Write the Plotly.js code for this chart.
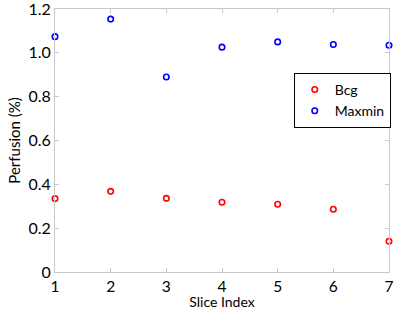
<!DOCTYPE html>
<html>
<head>
<meta charset="utf-8">
<script src="https://cdn.plot.ly/plotly-3.0.1.min.js"></script>
<style>html,body{margin:0;padding:0;background:#fff;}</style>
</head>
<body>
<div id="chart" style="width:400px;height:310px;"></div>
<script>
var sliceIndex = [1, 2, 3, 4, 5, 6, 7];
var bcgValues = [0.335, 0.368, 0.336, 0.318, 0.309, 0.286, 0.140];
var maxminValues = [1.074, 1.154, 0.890, 1.026, 1.050, 1.038, 1.035];
var yTickVals = [0, 0.2, 0.4, 0.6, 0.8, 1.0, 1.2];
var yTickText = ['0', '0.2', '0.4', '0.6', '0.8', '1.0', '1.2'];
var xTickVals = [1, 2, 3, 4, 5, 6, 7];
var xTickText = ['1', '2', '3', '4', '5', '6', '7'];

var FONT = 'Lato, "Open Sans", sans-serif';
var AXC = '#c8c8c8';

var traces = [
  {
    x: sliceIndex, y: bcgValues, name: 'Bcg', type: 'scatter', mode: 'markers',
    marker: {symbol: 'circle-open', size: 5.5, color: '#ff0000', line: {width: 1.6, color: '#ff0000'}},
    cliponaxis: false
  },
  {
    x: sliceIndex, y: maxminValues, name: 'Maxmin', type: 'scatter', mode: 'markers',
    marker: {symbol: 'circle-open', size: 5.5, color: '#0000ff', line: {width: 1.6, color: '#0000ff'}},
    cliponaxis: false
  }
];

var layout = {
  width: 400, height: 310,
  margin: {l: 55, r: 11, t: 9, b: 38, pad: 0, autoexpand: false},
  paper_bgcolor: '#ffffff', plot_bgcolor: '#ffffff',
  font: {family: FONT, size: 15, color: '#000000'},
  showlegend: true,
  legend: {
    x: 0.86, y: 0.757, xanchor: 'center', yanchor: 'top',
    bordercolor: '#000000', borderwidth: 1, bgcolor: '#ffffff',
    font: {family: FONT, size: 14, color: '#000000'},
    itemwidth: 30, tracegroupgap: 0
  },
  xaxis: {
    range: [1, 7], tickmode: 'array', tickvals: xTickVals, ticktext: xTickText,
    showgrid: false, zeroline: false, showline: true, linecolor: AXC, linewidth: 1,
    mirror: 'ticks', ticks: 'inside', ticklen: 4, tickcolor: AXC,
    ticklabeloverflow: 'allow', ticklabelstandoff: 0,
    tickfont: {family: FONT, size: 15.5, color: '#000000'},
    title: {text: 'Slice Index', font: {family: FONT, size: 14, color: '#000000'}, standoff: 5}
  },
  yaxis: {
    range: [0, 1.2001], tickmode: 'array', tickvals: yTickVals, ticktext: yTickText,
    showgrid: false, zeroline: false, showline: true, linecolor: AXC, linewidth: 1,
    mirror: 'ticks', ticks: 'inside', ticklen: 4, tickcolor: AXC,
    ticklabeloverflow: 'allow',
    tickfont: {family: FONT, size: 16, color: '#000000'},
    title: {text: 'Perfusion (%)', font: {family: FONT, size: 15, color: '#000000'}, standoff: 4}
  }
};

Plotly.newPlot('chart', traces, layout, {displayModeBar: false, staticPlot: true});
</script>
</body>
</html>
